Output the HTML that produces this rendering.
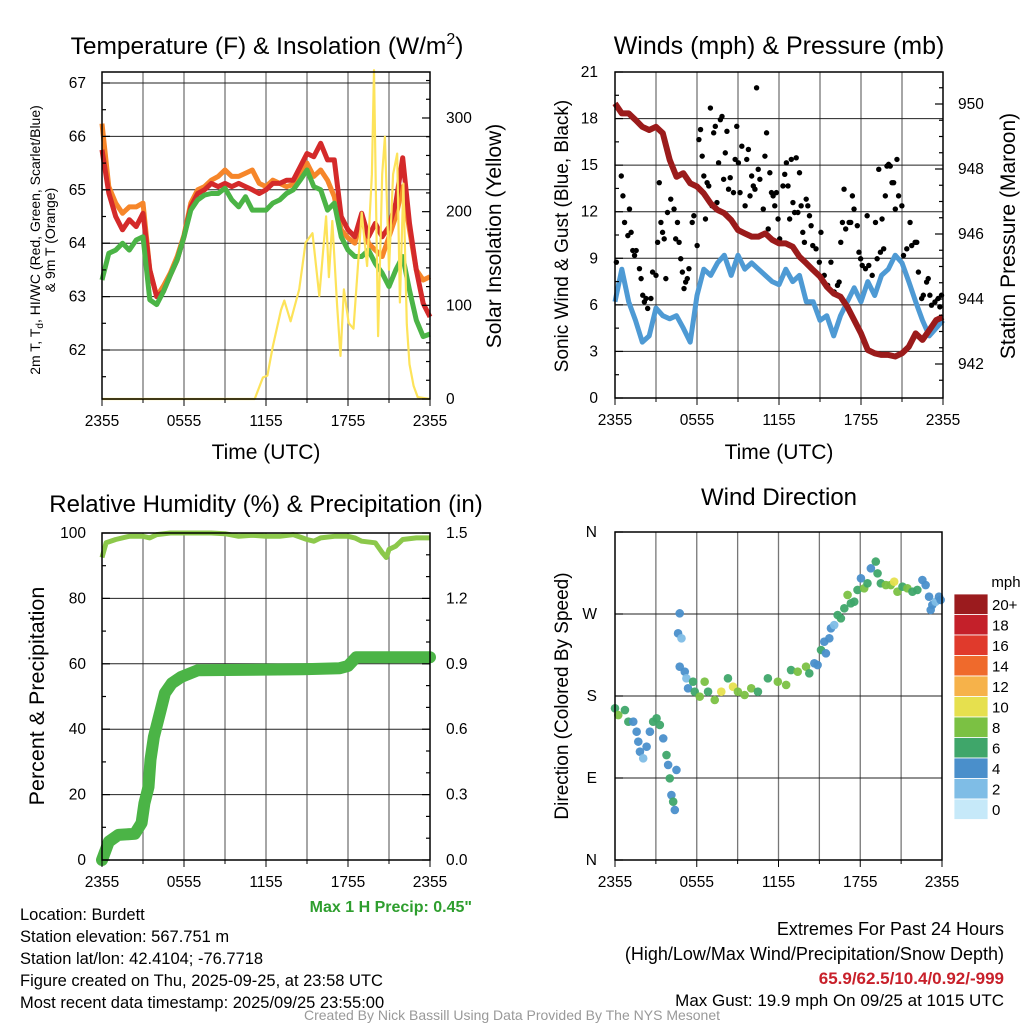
<!DOCTYPE html>
<html><head><meta charset="utf-8"><style>
html,body{margin:0;padding:0;background:#fff;}
svg{display:block;font-family:"Liberation Sans",sans-serif;}
</style></head><body>
<svg id="chart" width="1024" height="1024" viewBox="0 0 1024 1024" xmlns="http://www.w3.org/2000/svg">
<g id="g1"></g>
<g id="g2"></g>
<g id="g3"></g>
<g id="g4"></g>
<g id="gt">
<text x="267" y="54" font-size="24.5" text-anchor="middle">Temperature (F) &amp; Insolation (W/m<tspan dy="-10" font-size="16">2</tspan><tspan dy="10">)</tspan></text>
<text x="779" y="54" font-size="25" text-anchor="middle">Winds (mph) &amp; Pressure (mb)</text>
<text x="266" y="512" font-size="24" text-anchor="middle">Relative Humidity (%) &amp; Precipitation (in)</text>
<text x="779" y="505" font-size="24" text-anchor="middle">Wind Direction</text>
<text x="266" y="459" font-size="21" text-anchor="middle">Time (UTC)</text>
<text x="779" y="459" font-size="21" text-anchor="middle">Time (UTC)</text>
<text transform="translate(40,240) rotate(-90)" font-size="14" text-anchor="middle">2m T, T<tspan dy="3" font-size="10">d</tspan><tspan dy="-3">, HI/WC (Red, Green, Scarlet/Blue)</tspan></text>
<text transform="translate(55,240) rotate(-90)" font-size="14" text-anchor="middle">&amp; 9m T (Orange)</text>
<text transform="translate(501,236) rotate(-90)" font-size="21" text-anchor="middle">Solar Insolation (Yellow)</text>
<text transform="translate(568,236) rotate(-90)" font-size="19" text-anchor="middle">Sonic Wind &amp; Gust (Blue, Black)</text>
<text transform="translate(1015,236) rotate(-90)" font-size="21" text-anchor="middle">Station Pressure (Maroon)</text>
<text transform="translate(44,696) rotate(-90)" font-size="21.5" text-anchor="middle">Percent &amp; Precipitation</text>
<text transform="translate(568,696) rotate(-90)" font-size="19" text-anchor="middle">Direction (Colored By Speed)</text>
<text x="472" y="912" font-size="16" font-weight="bold" fill="#2e9e2e" text-anchor="end">Max 1 H Precip: 0.45"</text>
<g font-size="16.5">
<text x="20" y="920">Location: Burdett</text>
<text x="20" y="942">Station elevation: 567.751 m</text>
<text x="20" y="964">Station lat/lon: 42.4104; -76.7718</text>
<text x="20" y="986">Figure created on Thu, 2025-09-25, at 23:58 UTC</text>
<text x="20" y="1008">Most recent data timestamp: 2025/09/25 23:55:00</text>
</g>
<g text-anchor="end">
<text x="1004" y="935" font-size="18">Extremes For Past 24 Hours</text>
<text x="1004" y="960" font-size="18">(High/Low/Max Wind/Precipitation/Snow Depth)</text>
<text x="1004" y="984" font-size="17" font-weight="bold" fill="#c8202a">65.9/62.5/10.4/0.92/-999</text>
<text x="1004" y="1006" font-size="17">Max Gust: 19.9 mph On 09/25 at 1015 UTC</text>
</g>
<text x="512" y="1020" font-size="14" fill="#999" text-anchor="middle">Created By Nick Bassill Using Data Provided By The NYS Mesonet</text>
<text x="1006" y="587" font-size="15" text-anchor="middle">mph</text>
</g>
</svg>
<script>
const hours=[0,0.5,1,1.5,2,2.5,3,3.5,4,4.5,5,5.5,6,6.5,7,7.5,8,8.5,9,9.5,10,10.5,11,11.5,12,12.5,13,13.5,14,14.5,15,15.5,16,16.5,17,17.5,18,18.5,19,19.5,20,20.5,21,21.5,22,22.5,23,23.5,24];
const tempRed=[65.75,64.94,64.5,64.25,64.44,64.31,64.56,63.5,63.0,63.1,63.4,63.69,64.12,64.68,64.93,65.0,65.12,65.06,65.12,65.06,65.12,65.06,65.0,64.93,65.0,65.12,65.12,65.18,65.18,65.43,65.68,65.62,65.87,65.56,65.56,64.5,64.25,64.12,64.56,64.12,64.37,64.12,64.31,64.75,65.6,64.37,63.5,62.87,62.62];
const temp9m=[66.24,65.06,64.75,64.56,64.68,64.68,64.75,63.5,63.0,63.2,63.44,63.75,64.15,64.75,65.0,65.06,65.18,65.25,65.37,65.25,65.25,65.31,65.37,65.12,65.06,65.18,65.12,65.06,65.1,65.3,65.5,65.25,65.37,65.18,64.87,64.25,64.1,64.0,64.5,64.0,63.87,63.75,64.12,64.5,65.06,64.25,63.5,63.31,63.37];
const dewpt=[63.31,63.81,63.87,64.0,63.87,64.06,64.12,62.94,62.85,63.1,63.4,63.69,64.12,64.62,64.81,64.9,64.93,64.93,65.03,64.81,64.68,64.87,64.62,64.62,64.62,64.75,64.81,64.93,65.0,65.18,65.37,65.06,65.0,64.62,64.75,64.12,63.87,63.75,63.75,63.87,63.62,63.44,63.19,63.5,63.75,63.12,62.56,62.25,62.3];
const solarHours=[0,11.17,11.77,12.1,12.5,13.1,13.34,13.8,14.43,14.9,15.4,15.9,16.4,16.6,16.85,17.2,17.45,17.7,18.05,18.4,19.0,19.4,19.75,19.9,20.2,20.5,20.7,21.0,21.3,21.6,21.8,22.05,22.3,22.5,22.8,23.1,24];
const solarVals=[0,0,23,25,56,95,105,83,117,167,177,110,195,130,190,100,46,117,81,75,199,142,240,351,67,240,280,138,240,262,103,230,80,37,14,2,0];
const windSpeed=[6.2,8.3,6.2,5.0,3.6,4.0,5.8,5.3,5.1,5.3,4.5,3.6,6.6,8.3,7.9,8.7,9.2,7.9,9.2,8.3,8.7,8.3,7.9,7.5,7.3,8.3,7.5,7.9,6.2,6.2,5.0,5.3,4.0,5.3,6.2,7.1,6.2,7.5,6.6,7.9,8.3,9.2,8.7,7.5,6.2,5.0,4.0,4.5,5.0];
const pressure=[950.02,949.71,949.71,949.51,949.3,949.2,949.3,949.1,948.28,947.76,947.87,947.56,947.46,947.25,946.94,946.74,946.64,946.43,946.12,946.02,945.92,945.92,946.02,945.82,945.71,945.71,945.61,945.3,945.1,944.89,944.69,944.38,944.17,944.07,943.76,943.35,942.94,942.43,942.33,942.28,942.28,942.23,942.33,942.53,942.94,942.74,943.04,943.35,943.45];
const gustHours=[0.1,0.46,0.58,0.7,0.94,1.06,1.18,1.3,1.43,1.55,1.79,1.91,2.03,2.15,2.27,2.39,2.63,2.75,3.0,3.12,3.24,3.36,3.48,3.6,3.72,3.84,4.08,4.32,4.44,4.57,4.69,4.81,4.93,5.05,5.17,5.29,5.41,5.65,5.77,6.01,6.14,6.26,6.38,6.5,6.62,6.74,6.86,6.98,7.1,7.22,7.34,7.46,7.58,7.71,7.83,7.95,8.07,8.19,8.31,8.43,8.67,8.79,8.91,9.03,9.15,9.28,9.52,9.64,9.76,9.88,10.0,10.12,10.24,10.36,10.48,10.6,10.85,10.97,11.09,11.21,11.33,11.45,11.57,11.69,11.81,11.93,12.05,12.29,12.42,12.54,12.66,12.78,12.9,13.02,13.14,13.26,13.38,13.5,13.62,13.74,13.86,13.99,14.11,14.23,14.35,14.47,14.71,14.95,15.07,15.31,15.56,15.8,16.04,16.28,16.4,16.52,16.64,16.76,16.88,17.13,17.25,17.37,17.49,17.73,17.85,17.97,18.09,18.33,18.45,18.57,18.82,19.06,19.18,19.3,19.42,19.54,19.66,19.78,19.9,20.02,20.14,20.27,20.39,20.51,20.63,20.75,20.99,21.11,21.35,21.59,21.71,21.96,22.08,22.2,22.44,22.56,22.8,22.92,23.04,23.16,23.41,23.65,23.77,23.89];
const gustVals=[8.75,14.3,13.02,11.31,10.46,12.17,10.67,9.5,9.18,9.5,8.33,7.69,6.62,6.19,6.41,5.77,6.41,8.11,7.9,10.03,13.87,11.31,10.67,10.25,7.69,11.95,12.81,12.17,10.25,11.31,10.03,8.97,8.11,7.05,7.47,7.69,8.33,11.31,11.74,9.82,16.65,17.29,15.58,14.3,11.53,13.87,13.66,18.68,12.38,17.08,17.5,12.59,15.15,17.93,18.14,14.09,15.79,17.18,13.45,14.19,13.23,15.37,17.5,15.15,13.23,16.22,12.38,15.37,16.01,13.02,14.3,13.66,13.45,19.98,14.73,14.09,12.17,15.58,17.08,10.89,14.51,13.23,13.02,12.38,13.23,11.53,10.25,13.66,14.41,15.15,13.66,11.53,15.37,12.59,11.95,15.47,11.95,14.51,12.38,10.67,10.03,12.81,12.38,11.74,11.1,9.82,9.61,8.75,10.67,7.9,7.26,8.75,6.83,7.26,7.47,10.03,11.31,13.45,10.89,11.31,11.31,13.02,12.17,11.1,9.39,8.97,8.54,8.33,11.74,8.54,7.9,11.31,8.97,14.73,9.39,11.53,9.61,13.02,14.94,15.05,14.94,13.87,13.87,12.17,15.37,13.02,12.38,9.18,9.61,11.31,9.82,10.03,10.03,8.11,6.41,6.62,7.47,7.69,6.62,5.98,6.19,6.41,5.87,6.62];
const rhHours=[0,0.3,1,2,3,3.5,4,5,8,9,10,11,12,13,14,15,15.5,16,17,18,18.5,19,20,20.5,20.8,21,21.5,22,23,24];
const rhVals=[92.5,97,98,99,99,98.5,99.5,100,100,99.8,99,99.3,99,99,99.5,98,97.5,98.5,99,99,98.5,97.5,97,94,92.5,95,96,98,98.5,98.5];
const precipHours=[0,0.5,1.2,2.4,2.9,3.1,3.4,3.55,3.8,4.3,4.6,5.1,5.8,7.0,14.7,17.4,18.0,18.6,24];
const precipVals=[0,0.084,0.115,0.12,0.17,0.26,0.335,0.46,0.565,0.69,0.765,0.81,0.84,0.87,0.875,0.88,0.89,0.93,0.93];
const dirHours=[0,0.24,0.73,0.98,1.34,1.59,1.71,1.83,2.07,2.32,2.56,2.8,3.05,3.29,3.54,3.78,3.9,4.02,4.14,4.27,4.39,4.51,4.75,4.63,4.88,4.75,5.12,5.24,5.36,5.73,5.85,6.22,6.58,6.83,7.32,7.8,8.29,8.66,9.02,9.51,10.0,10.49,11.22,11.95,12.56,12.92,13.41,14.02,14.26,14.63,14.87,15.12,15.36,15.48,15.73,15.85,16.09,16.34,16.58,16.83,17.07,17.31,17.56,17.8,18.05,18.29,18.53,18.78,19.14,19.27,19.51,19.88,20.24,20.49,20.73,21.1,21.46,21.83,22.19,22.56,22.8,23.05,23.29,23.54,23.78,23.9,23.17];
const dirVals=[166.5,159.1,164.6,151.8,151.8,140.8,129.9,118.9,111.6,124.4,140.8,151.8,155.5,148.2,133.5,115.2,104.3,89.6,71.3,64,54.9,98.8,270.7,248.8,243.3,212.2,206.7,199.4,188.4,195.7,184.7,179.3,195.7,184.7,175.6,184.7,199.4,190.2,184.7,181.1,188.4,184.7,199.4,195.7,192.1,208.5,206.7,212.2,204.9,215.9,214,230.5,239.6,226.8,243.3,254.3,257.9,268.9,265.2,276.2,290.9,281.7,283.5,296.4,309.2,298.2,303.7,320.1,327.5,314.6,303.7,301.8,301.8,305.5,294.5,300,298.2,294.5,296.4,307.3,301.8,289,279.9,283.5,289,285.4,274.4];
const dirSpeed=[6,8,6,6,4,4,4,4,2,4,4,6,6,6,4,6,4,6,4,6,4,4,4,4,2,4,4,2,4,6,6,8,8,6,8,10,6,10,8,8,8,6,6,8,8,6,8,8,6,4,4,6,4,4,4,4,2,6,6,6,8,6,6,6,4,8,6,4,6,6,6,8,8,10,8,6,8,6,6,4,4,4,4,2,4,4,4];
const cbLabels=["20+","18","16","14","12","10","8","6","4","2","0"];
const cbColors=["#9b1b1e","#c4202a","#e03a2c","#ef6a2c","#f6b24a","#e6e04e","#7bc143","#3fa66a","#4a8fcb","#7fbde6","#c6e9f9"];
const xTickLabels=["2355","0555","1155","1755","2355"];
const tempTicks=[62,63,64,65,66,67];
const solarTicks=[0,100,200,300];
const windTicks=[0,3,6,9,12,15,18,21];
const presTicks=[942,944,946,948,950];
const rhTicks=[0,20,40,60,80,100];
const prTicks=[0.0,0.3,0.6,0.9,1.2,1.5];
const dirTicks=[0,90,180,270,360];
const dirTickLabels=["N","E","S","W","N"];

const NS="http://www.w3.org/2000/svg";
function mk(tag,attrs,parent){const e=document.createElementNS(NS,tag);for(const k in attrs)e.setAttribute(k,attrs[k]);parent.appendChild(e);return e;}
function pts(xs,ys,fx,fy){return xs.map((h,i)=>fx(h).toFixed(1)+","+fy(ys[i]).toFixed(1)).join(" ");}

function frame(g,L,R,T,B,xf,hLines){
  for(let h=3;h<24;h+=3){const l=mk("line",{x1:xf(h),x2:xf(h),y1:T,y2:B,stroke:"#777","stroke-width":1.3},g);
    
    }
  hLines.forEach(y=>{const l=mk("line",{x1:L,x2:R,y1:y,y2:y,stroke:"#222","stroke-width":1},g);
    
    });
}
function border(g,L,R,T,B){const r=mk("rect",{x:L,y:T,width:R-L,height:B-T,fill:"none",stroke:"#000","stroke-width":1.5},g);
  
  }
function xlabels(g,xf,B){xTickLabels.forEach((s,i)=>{const t=mk("text",{x:xf(i*6),y:B+27,"font-size":15.5,"text-anchor":"middle"},g);t.textContent=s;
  
  });
  for(let h=0;h<=24;h+=3){const tk=mk("line",{x1:xf(h),x2:xf(h),y1:B,y2:B+ (h%6==0?7:4),stroke:"#000"},g);
    
    }}
function ylabels(g,ticks,yf,x,anchor,fmt){ticks.forEach(v=>{const t=mk("text",{x:x,y:yf(v)+5,"font-size":15.5,"text-anchor":anchor},g);t.textContent=fmt?fmt(v):v;
  
  });}
function ticks(g,ticks,yf,xEdge,dir,len){ticks.forEach(v=>{const tk=mk("line",{x1:xEdge,x2:xEdge+dir*len,y1:yf(v),y2:yf(v),stroke:"#000","stroke-width":1.2},g);
  
  });}

(function(){
const g=document.getElementById("g1");
const L=102,R=430,T=72,B=399;
const xf=h=>L+h*(R-L)/24, yT=v=>83+(67-v)*53.4, yS=w=>B-w*0.9367;
frame(g,L,R,T,B,xf,tempTicks.map(yT));
const a=mk("polyline",{points:pts(hours,temp9m,xf,yT),fill:"none",stroke:"#f6862a","stroke-width":5,"stroke-linejoin":"round"},g);


const b=mk("polyline",{points:pts(hours,tempRed,xf,yT),fill:"none",stroke:"#d42a2a","stroke-width":5,"stroke-linejoin":"round"},g);


const c=mk("polyline",{points:pts(hours,dewpt,xf,yT),fill:"none",stroke:"#4bb446","stroke-width":5,"stroke-linejoin":"round"},g);


const d=mk("polyline",{points:pts(solarHours,solarVals,xf,yS),fill:"none",stroke:"#fde35a","stroke-width":2.2,"stroke-linejoin":"round"},g);


border(g,L,R,T,B);
ticks(g,tempTicks,yT,L,1,8);ticks(g,[61.5,62.5,63.5,64.5,65.5,66.5],yT,L,1,4);
ticks(g,solarTicks,yS,R,-1,8);ticks(g,[20,40,60,80,120,140,160,180,220,240,260,280,320,340],yS,R,-1,4);
ylabels(g,tempTicks,yT,86,"end");ylabels(g,solarTicks,yS,446,"start");
xlabels(g,xf,B);
})();
(function(){
const g=document.getElementById("g2");
const L=615,R=943,T=72,B=398;
const xf=h=>L+h*(R-L)/24, yW=v=>B-v*(B-T)/21, yP=p=>364-(p-942)*32.5;
frame(g,L,R,T,B,xf,[3,6,9,12,15,18].map(yW));
const a=mk("polyline",{points:pts(hours,windSpeed,xf,yW),fill:"none",stroke:"#4e9ad4","stroke-width":5,"stroke-linejoin":"round"},g);


gustHours.forEach((h,i)=>{const c=mk("circle",{cx:xf(h),cy:yW(gustVals[i]),r:2.7,fill:"#000"},g);
  
  });
const p=mk("polyline",{points:pts(hours,pressure,xf,yP),fill:"none",stroke:"#9b1b1b","stroke-width":6,"stroke-linejoin":"round"},g);


border(g,L,R,T,B);
ticks(g,windTicks,yW,L,1,8);ticks(g,[1.5,4.5,7.5,10.5,13.5,16.5,19.5],yW,L,1,4);
ticks(g,presTicks,yP,R,-1,8);ticks(g,[941.5,942.5,943,943.5,944.5,945,945.5,946.5,947,947.5,948.5,949,949.5,950.5],yP,R,-1,4);
ylabels(g,windTicks,yW,598,"end");ylabels(g,presTicks,yP,958,"start");
xlabels(g,xf,B);
})();
(function(){
const g=document.getElementById("g3");
const L=102,R=430,T=533,B=860;
const xf=h=>L+h*(R-L)/24, yR=v=>B-v*3.27, yPr=v=>B-v*218;
frame(g,L,R,T,B,xf,[20,40,60,80].map(yR));
const a=mk("polyline",{points:pts(rhHours,rhVals,xf,yR),fill:"none",stroke:"#8cc84b","stroke-width":5,"stroke-linejoin":"round"},g);


const b=mk("polyline",{points:pts(precipHours,precipVals,xf,yPr),fill:"none",stroke:"#4bb446","stroke-width":12,"stroke-linejoin":"round","stroke-linecap":"round"},g);


border(g,L,R,T,B);
ticks(g,rhTicks,yR,L,1,8);ticks(g,[10,30,50,70,90],yR,L,1,4);
ticks(g,prTicks,yPr,R,-1,8);ticks(g,[0.1,0.2,0.4,0.5,0.7,0.8,1.0,1.1,1.3,1.4],yPr,R,-1,4);
ylabels(g,rhTicks,yR,86,"end");ylabels(g,prTicks,yPr,446,"start",v=>v.toFixed(1));
xlabels(g,xf,B);
})();
(function(){
const g=document.getElementById("g4");
const L=615,R=942,T=532,B=860;
const xf=h=>L+h*(R-L)/24, yD=d=>B-d*(B-T)/360;
frame(g,L,R,T,B,xf,[90,180,270].map(yD));
const colorFor=s=>cbColors[10-Math.min(10,Math.round(s/2))];
dirHours.forEach((h,i)=>{const c=mk("circle",{cx:xf(h),cy:yD(dirVals[i]),r:4.3,fill:colorFor(dirSpeed[i]),"fill-opacity":0.95},g);
  
  });
border(g,L,R,T,B);
ticks(g,dirTicks,yD,L,1,8);
dirTicks.forEach((v,i)=>{const t=mk("text",{x:597,y:yD(v)+5,"font-size":15.5,"text-anchor":"end"},g);t.textContent=dirTickLabels[i];
  
  });
xlabels(g,xf,B);
const cb=mk("g",{},g);


cbColors.forEach((col,i)=>{const r=mk("rect",{x:954,y:594+i*20.5,width:34,height:20.5,fill:col,stroke:"#fff","stroke-width":0.8},cb);
  
  
  const t=mk("text",{x:992,y:594+i*20.5+16,"font-size":15},cb);t.textContent=cbLabels[i];
  
  });
})();
</script>
</body></html>
